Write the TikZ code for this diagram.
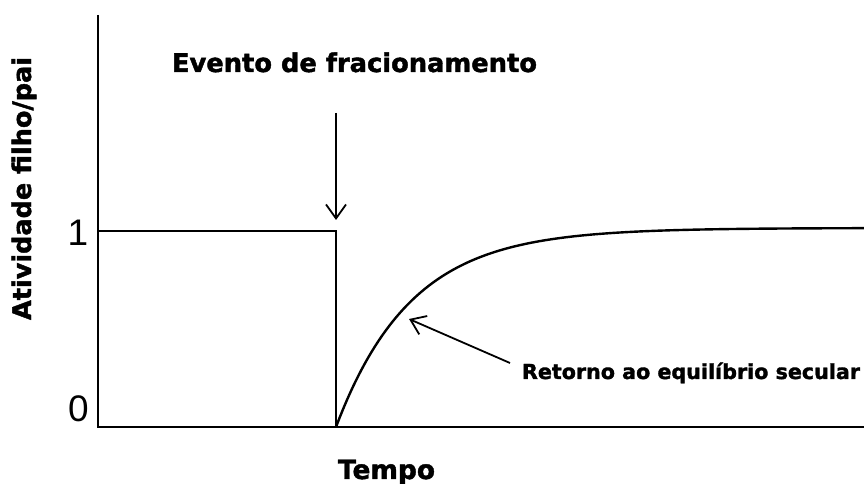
\documentclass[tikz,border=0pt]{standalone}
\usepackage{fontspec}
\setmainfont{Liberation Sans}
\newfontfamily\heavy{DejaVu Sans Bold}[FakeBold=1.6]
\usetikzlibrary{arrows.meta}
\begin{document}
\begin{tikzpicture}[x=1pt,y=1pt,line width=2pt,
  lbl/.style={inner sep=0pt,anchor=base},
  num/.style={inner sep=0pt,font=\fontsize{37}{40}\selectfont},
  barb/.style={-{Straight Barb[length=14pt,width=20pt,line width=1.8pt]},line width=1.8pt},
  axis/.style={line width=2pt},
  curve/.style={line width=2.4pt}]
\useasboundingbox (0,0) rectangle (864,484);
% axes
\coordinate (ytop) at (98,469);
\coordinate (orig) at (98,57);
\coordinate (xend) at (864,57);
\draw[axis] (ytop) -- (orig) -- (xend);
% step
\coordinate (s1) at (98,253);
\coordinate (s2) at (336,253);
\coordinate (s3) at (336,57);
\draw[axis] (s1) -- (s2) -- (s3);
% curve
\draw[curve] plot[domain=336:864,samples=150] (\x,{57+199*(1-exp(-(\x-336)/75))});
% labels
\node[lbl] (evento) at (354.5,412) {\heavy\fontsize{21.5}{26}\selectfont\resizebox{365pt}{!}{Evento de fracionamento}};
\node[lbl] (retorno) at (691,105) {\heavy\fontsize{18}{22}\selectfont\resizebox{338pt}{!}{Retorno ao equilíbrio secular}};
\node[lbl] (tempo) at (386.5,5) {\heavy\fontsize{23}{26}\selectfont\resizebox{97pt}{!}{Tempo}};
\node[lbl,rotate=90] (ylab) at (31,295.5) {\heavy\fontsize{21}{24}\selectfont\resizebox{263pt}{!}{Atividade filho/pai}};
\node[num] (one) at (78,251) {1};
\node[num] (zero) at (78.5,75.5) {0};
% arrows
\coordinate (a1) at (336,371);
\coordinate (a2) at (336,264);
\draw[barb] (a1) -- (a2);
\coordinate (b1) at (510,121);
\coordinate (b2) at (409,165);
\draw[barb] (b1) -- (b2);
\end{tikzpicture}
\end{document}
